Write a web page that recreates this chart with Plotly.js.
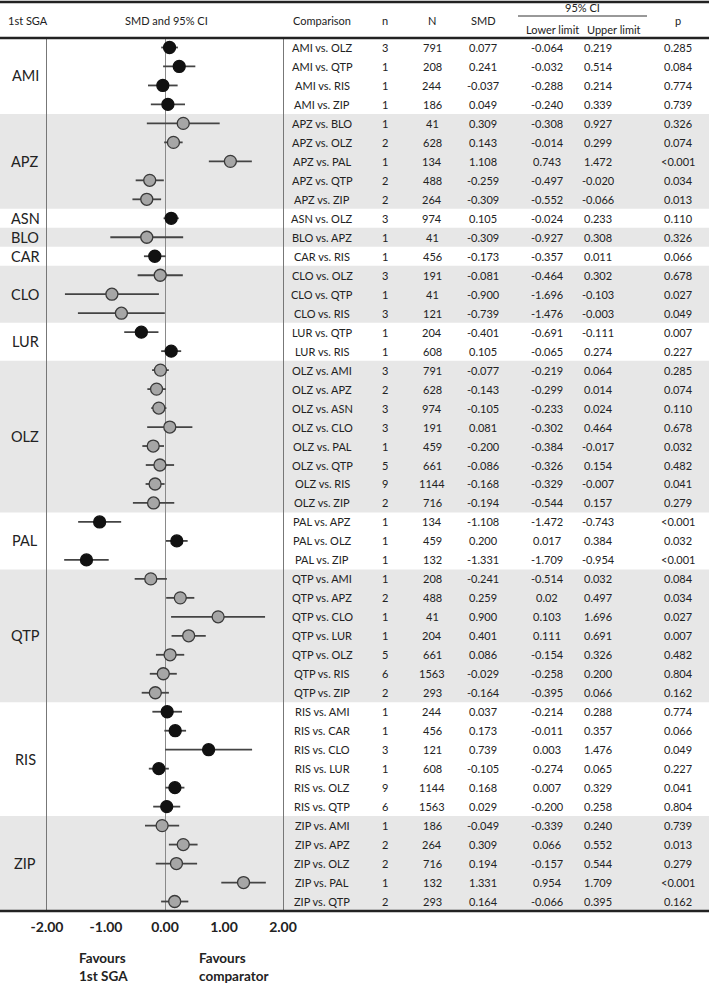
<!DOCTYPE html>
<html>
<head>
<meta charset="utf-8">
<script src="https://cdn.plot.ly/plotly-3.0.1.min.js"></script>
<style>html,body{margin:0;padding:0;background:#fff;}#chart{width:709px;height:983px;}</style>
</head>
<body>
<div id="chart"></div>
<script>
const comparisons = ["AMI vs. OLZ","AMI vs. QTP","AMI vs. RIS","AMI vs. ZIP",
  "APZ vs. BLO","APZ vs. OLZ","APZ vs. PAL","APZ vs. QTP","APZ vs. ZIP",
  "ASN vs. OLZ","BLO vs. APZ","CAR vs. RIS",
  "CLO vs. OLZ","CLO vs. QTP","CLO vs. RIS",
  "LUR vs. QTP","LUR vs. RIS",
  "OLZ vs. AMI","OLZ vs. APZ","OLZ vs. ASN","OLZ vs. CLO","OLZ vs. PAL","OLZ vs. QTP","OLZ vs. RIS","OLZ vs. ZIP",
  "PAL vs. APZ","PAL vs. OLZ","PAL vs. ZIP",
  "QTP vs. AMI","QTP vs. APZ","QTP vs. CLO","QTP vs. LUR","QTP vs. OLZ","QTP vs. RIS","QTP vs. ZIP",
  "RIS vs. AMI","RIS vs. CAR","RIS vs. CLO","RIS vs. LUR","RIS vs. OLZ","RIS vs. QTP",
  "ZIP vs. AMI","ZIP vs. APZ","ZIP vs. OLZ","ZIP vs. PAL","ZIP vs. QTP"];
const nStudies = ["3","1","1","1", "1","2","1","2","2", "3","1","1", "3","1","3", "1","1",
  "3","2","3","3","1","5","9","2", "1","1","1", "1","2","1","1","5","6","2",
  "1","1","3","1","9","6", "1","2","2","1","2"];
const nPatients = ["791","208","244","186", "41","628","134","488","264", "974","41","456", "191","41","121", "204","608",
  "791","628","974","191","459","661","1144","716", "134","459","132", "208","488","41","204","661","1563","293",
  "244","456","121","608","1144","1563", "186","264","716","132","293"];
const smdText = ["0.077","0.241","-0.037","0.049", "0.309","0.143","1.108","-0.259","-0.309", "0.105","-0.309","-0.173",
  "-0.081","-0.900","-0.739", "-0.401","0.105",
  "-0.077","-0.143","-0.105","0.081","-0.200","-0.086","-0.168","-0.194", "-1.108","0.200","-1.331",
  "-0.241","0.259","0.900","0.401","0.086","-0.029","-0.164",
  "0.037","0.173","0.739","-0.105","0.168","0.029", "-0.049","0.309","0.194","1.331","0.164"];
const lowerText = ["-0.064","-0.032","-0.288","-0.240", "-0.308","-0.014","0.743","-0.497","-0.552", "-0.024","-0.927","-0.357",
  "-0.464","-1.696","-1.476", "-0.691","-0.065",
  "-0.219","-0.299","-0.233","-0.302","-0.384","-0.326","-0.329","-0.544", "-1.472","0.017","-1.709",
  "-0.514","0.02","0.103","0.111","-0.154","-0.258","-0.395",
  "-0.214","-0.011","0.003","-0.274","0.007","-0.200", "-0.339","0.066","-0.157","0.954","-0.066"];
const upperText = ["0.219","0.514","0.214","0.339", "0.927","0.299","1.472","-0.020","-0.066", "0.233","0.308","0.011",
  "0.302","-0.103","-0.003", "-0.111","0.274",
  "0.064","0.014","0.024","0.464","-0.017","0.154","-0.007","0.157", "-0.743","0.384","-0.954",
  "0.032","0.497","1.696","0.691","0.326","0.200","0.066",
  "0.288","0.357","1.476","0.065","0.329","0.258", "0.240","0.552","0.544","1.709","0.395"];
const pText = ["0.285","0.084","0.774","0.739", "0.326","0.074","<0.001","0.034","0.013", "0.110","0.326","0.066",
  "0.678","0.027","0.049", "0.007","0.227",
  "0.285","0.074","0.110","0.678","0.032","0.482","0.041","0.279", "<0.001","0.032","<0.001",
  "0.084","0.034","0.027","0.007","0.482","0.804","0.162",
  "0.774","0.066","0.049","0.227","0.041","0.804", "0.739","0.013","0.279","<0.001","0.162"];
const tickValues = [-2, -1, 0, 1, 2];
const tickLabels = ["-2.00","-1.00","0.00","1.00","2.00"];

const W = 709, H = 983;
const FONT = "Lato";
const px = v => v / W;
const py = v => 1 - v / H;

const rows = comparisons.map((_, i) => i);
const groupOf = comparisons.map(c => c.split(" ")[0]);
const groups = [];
groupOf.forEach((g, i) => {
  if (!groups.length || groups[groups.length - 1].name !== g) groups.push({name: g, start: i, end: i});
  else groups[groups.length - 1].end = i;
});
const shadedGroup = {};
groups.forEach((g, k) => { shadedGroup[g.name] = (k % 2 === 1); });

const smd = smdText.map(parseFloat);
const lower = lowerText.map(parseFloat);
const upper = upperText.map(parseFloat);

const markerFill = groupOf.map(g => shadedGroup[g] ? "#a6a6a6" : "#111111");
const markerLine = groupOf.map(g => shadedGroup[g] ? "#3a3a3a" : "#111111");

const trace = {
  type: "scatter", mode: "markers",
  x: smd, y: rows,
  marker: {size: 12, color: markerFill, line: {color: markerLine, width: 1.3}},
  error_x: {type: "data", symmetric: false,
    array: upper.map((u, i) => u - smd[i]),
    arrayminus: lower.map((l, i) => smd[i] - l),
    color: "#444", thickness: 1.8, width: 0},
  hoverinfo: "skip", showlegend: false, cliponaxis: false
};

const shapes = [];
groups.forEach(g => {
  if (shadedGroup[g.name]) {
    shapes.push({type: "rect", xref: "paper", yref: "y", x0: 0, x1: 1,
      y0: g.start - 0.5, y1: g.end + 0.5, fillcolor: "#e7e7e7", line: {width: 0}, layer: "below"});
  }
});
// table rules
shapes.push({type: "line", xref: "paper", yref: "paper", x0: 0, x1: 1, y0: py(2), y1: py(2), line: {color: "#222", width: 2.5}});
shapes.push({type: "line", xref: "paper", yref: "paper", x0: 0, x1: 1, y0: py(38), y1: py(38), line: {color: "#222", width: 2.5}});
shapes.push({type: "line", xref: "paper", yref: "paper", x0: 0, x1: 1, y0: py(911), y1: py(911), line: {color: "#222", width: 2.5}});
shapes.push({type: "line", xref: "paper", yref: "paper", x0: px(518), x1: px(647), y0: py(16), y1: py(16), line: {color: "#333", width: 1}});

const annotations = [];
const txt = (text, x, y, yref, size, opts) => Object.assign({
  text: text, xref: "paper", x: x, yref: yref, y: y, showarrow: false,
  xanchor: "center", yanchor: "middle",
  font: {family: FONT, size: size, color: "#222"}
}, opts || {});

// header
annotations.push(txt("1st SGA", px(6), py(21), "paper", 11, {xanchor: "left"}));
annotations.push(txt("SMD and 95% CI", px(166), py(21), "paper", 11));
annotations.push(txt("Comparison", px(322), py(21), "paper", 11));
annotations.push(txt("n", px(385), py(21), "paper", 11));
annotations.push(txt("N", px(432), py(21), "paper", 11));
annotations.push(txt("SMD", px(483), py(21), "paper", 11));
annotations.push(txt("95% CI", px(582), py(8), "paper", 11));
annotations.push(txt("Lower limit", px(552), py(29), "paper", 11));
annotations.push(txt("Upper limit", px(614), py(29), "paper", 11));
annotations.push(txt("p", px(678), py(21), "paper", 11));

// group labels
groups.forEach(g => {
  annotations.push(txt(g.name, px(25), (g.start + g.end) / 2, "y", 14.5));
});

// table cells
const cols = [
  [comparisons, 322], [nStudies, 385], [nPatients, 432], [smdText, 483],
  [lowerText, 547], [upperText, 598], [pText, 678]
];
rows.forEach(i => {
  cols.forEach(([arr, cx]) => {
    annotations.push(txt(arr[i], px(cx), i, "y", 11));
  });
});

// favours labels
const bold = (t, x, y) => txt(t, px(x), py(y), "paper", 13.5, {font: {family: FONT, size: 13.5, color: "#222", weight: "bold"}});
annotations.push(bold("Favours", 102, 958));
annotations.push(bold("1st SGA", 103, 976));
annotations.push(bold("Favours", 222, 958));
annotations.push(bold("comparator", 233, 976));

const layout = {
  width: W, height: H,
  margin: {l: 0, r: 0, t: 0, b: 0, pad: 0},
  paper_bgcolor: "#ffffff", plot_bgcolor: "rgba(0,0,0,0)",
  showlegend: false,
  xaxis: {
    domain: [px(47), px(283)], range: [-2, 2],
    showgrid: false, showline: false,
    zeroline: true, zerolinecolor: "#8a8a8a", zerolinewidth: 1,
    tickmode: "array", tickvals: tickValues, ticktext: tickLabels,
    ticks: "", ticklabelstandoff: 6,
    tickfont: {family: FONT, size: 14, color: "#222", weight: "bold"},
    fixedrange: true
  },
  yaxis: {
    domain: [py(911), py(38)], range: [comparisons.length - 0.5, -0.5],
    showgrid: false, zeroline: false, showticklabels: false, ticks: "",
    showline: true, mirror: true, linecolor: "#777", linewidth: 1,
    fixedrange: true
  },
  shapes: shapes,
  annotations: annotations
};

Plotly.newPlot("chart", [trace], layout, {displayModeBar: false, staticPlot: true});
</script>
</body>
</html>
